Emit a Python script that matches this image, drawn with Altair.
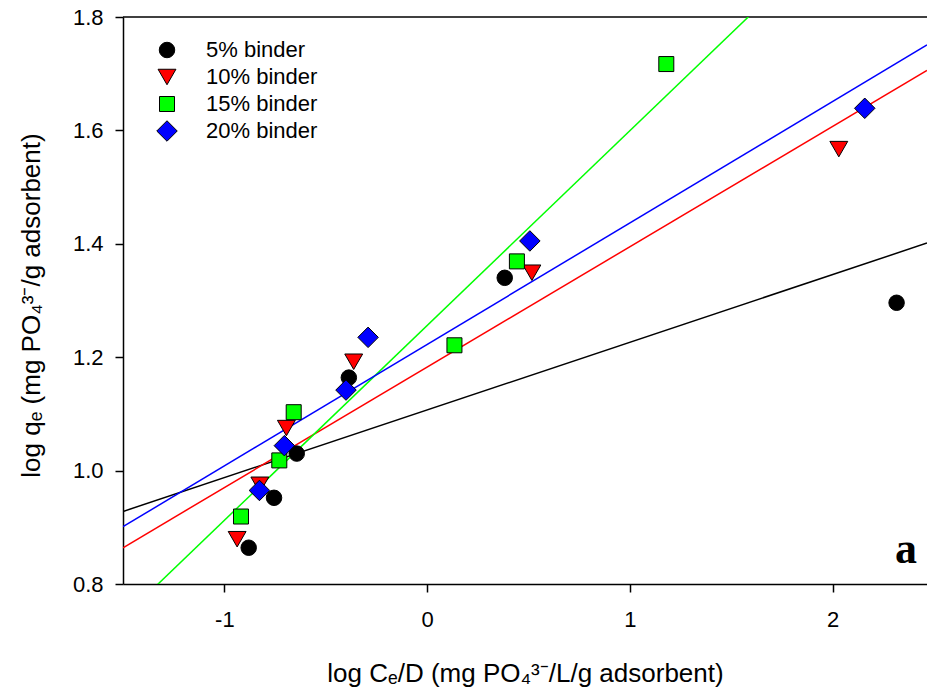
import altair as alt
import pandas as pd

# ---- data ----
series = ["5% binder", "10% binder", "15% binder", "20% binder"]
fill_colors = ["#000000", "#ff0000", "#00ff00", "#0000ff"]
shapes = ["circle", "triangle-down", "square", "diamond"]
sizes = [240, 320, 225, 420]

x_5 = [-0.880, -0.755, -0.643, -0.386, 0.383, 2.316]
y_5 = [0.864, 0.952, 1.030, 1.164, 1.340, 1.296]
x_10 = [-0.937, -0.825, -0.694, -0.362, 0.517, 2.031]
y_10 = [0.879, 0.975, 1.075, 1.192, 1.349, 1.567]
x_15 = [-0.918, -0.729, -0.658, 0.135, 0.443, 1.180]
y_15 = [0.919, 1.018, 1.103, 1.221, 1.369, 1.717]
x_20 = [-0.827, -0.704, -0.400, -0.291, 0.507, 2.159]
y_20 = [0.965, 1.044, 1.142, 1.235, 1.405, 1.639]

x_ticks = [-1, 0, 1, 2]
y_ticks = [0.8, 1.0, 1.2, 1.4, 1.6, 1.8]
X_MIN, X_MAX = -1.5, 2.466
Y_MIN, Y_MAX = 0.8, 1.8

rows = []
for name, sz, xs, ys in zip(series, sizes, [x_5, x_10, x_15, x_20], [y_5, y_10, y_15, y_20]):
    for a, b in zip(xs, ys):
        rows.append({"binder": name, "x": a, "y": b, "msize": sz})
df = pd.DataFrame(rows)
legend_df = pd.DataFrame({"binder": series, "row": list(range(len(series))), "msize": sizes})

FONT = "Liberation Sans"

fill_scale = alt.Scale(domain=series, range=fill_colors)
shape_scale = alt.Scale(domain=series, range=shapes)

x_enc = alt.X(
    "x:Q",
    scale=alt.Scale(domain=[X_MIN, X_MAX], nice=False, zero=False),
    axis=alt.Axis(
        values=x_ticks,
        labelExpr="datum.value < 0 ? '-' + abs(datum.value) : '' + datum.value",
        title="log Cₑ/D (mg PO₄³⁻/L/g adsorbent)",
        titleY=97, titleBaseline="alphabetic",
        labelPadding=17, tickSize=8,
    ),
)
y_enc = alt.Y(
    "y:Q",
    scale=alt.Scale(domain=[Y_MIN, Y_MAX], nice=False, zero=False),
    axis=alt.Axis(
        values=y_ticks, format=".1f",
        title="log qₑ (mg PO₄³⁻/g adsorbent)",
        titleX=-84, titleY=288, titleBaseline="alphabetic", titleAngle=-90,
        labelPadding=12, tickSize=8,
    ),
)

base = alt.Chart(df)

lines = base.transform_regression(
    "x", "y", groupby=["binder"], extent=[X_MIN, X_MAX]
).mark_line(clip=True, strokeWidth=1.5).encode(
    x=x_enc, y=y_enc,
    stroke=alt.Stroke("binder:N", scale=fill_scale, legend=None),
)

points = base.mark_point(filled=True, stroke="black", strokeWidth=1, opacity=1).encode(
    x=x_enc, y=y_enc,
    fill=alt.Fill("binder:N", scale=fill_scale, legend=None),
    shape=alt.Shape("binder:N", scale=shape_scale, legend=None),
    size=alt.Size("msize:Q", scale=None, legend=None),
)

top = alt.Chart(pd.DataFrame({"v": [Y_MAX]})).mark_rule(color="black", strokeWidth=1.5).encode(
    y=alt.Y("v:Q")
)

# legend drawn as a small layer (row centres every 27 px from the top of the plot)
leg_base = alt.Chart(legend_df).transform_calculate(ly="33 + 27 * datum.row")
leg_pts = leg_base.mark_point(filled=True, stroke="black", strokeWidth=1, opacity=1).encode(
    x=alt.value(44),
    y=alt.Y("ly:Q", scale=None, axis=None),
    fill=alt.Fill("binder:N", scale=fill_scale, legend=None),
    shape=alt.Shape("binder:N", scale=shape_scale, legend=None),
    size=alt.Size("msize:Q", scale=None, legend=None),
)
leg_txt = leg_base.mark_text(
    align="left", baseline="middle", font=FONT, fontSize=22, color="black"
).encode(
    x=alt.value(83),
    y=alt.Y("ly:Q", scale=None, axis=None),
    text="binder:N",
)

panel = alt.Chart(pd.DataFrame({"t": ["a"]})).mark_text(
    font="Liberation Serif", fontWeight="bold", fontSize=44,
    align="center", baseline="alphabetic", color="black",
).encode(text="t:N", x=alt.value(783), y=alt.value(546))

chart = alt.layer(top, lines, points, leg_pts, leg_txt, panel).properties(
    width=804, height=567,
    autosize=alt.AutoSizeParams(type="none"),
    padding={"left": 123, "top": 17, "right": 0, "bottom": 112},
).configure_view(stroke=None).configure_axis(
    grid=False, domainColor="black", domainWidth=1.5, tickColor="black", tickWidth=1.5,
    labelFont=FONT, labelFontSize=22, labelColor="black",
    titleFont=FONT, titleFontSize=26, titleFontWeight="normal", titleColor="black",
)

chart.save("out.html", embed_options={"renderer": "svg", "actions": False})
